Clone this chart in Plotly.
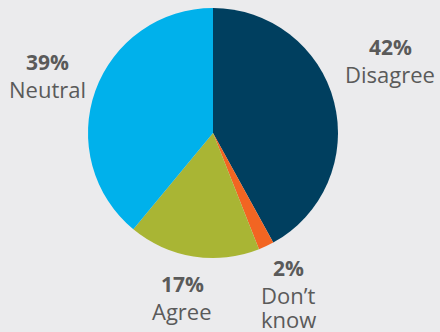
import plotly.graph_objects as go

labels = ["Disagree", "Don't know", "Agree", "Neutral"]
values = [42, 2, 17, 39]
colors = ["#003f5f", "#f26522", "#a9b534", "#00b1eb"]
pct_text = ["42%", "2%", "17%", "39%"]
name_text = [["Disagree"], ["Don’t", "know"], ["Agree"], ["Neutral"]]
# label anchor positions (paper px)
label_pos = [(390, 47), (288, 268), (182, 284), (47, 62)]

W, H = 440, 332
fig = go.Figure(go.Pie(
    labels=labels, values=values, sort=False, direction="clockwise", rotation=0,
    marker=dict(colors=colors, line=dict(width=0)),
    textinfo="none", hoverinfo="label+percent", showlegend=False,
    domain=dict(x=[88 / W, 338 / W], y=[1 - 258 / H, 1 - 8 / H]),
))

font_family = "'Open Sans', 'Noto Sans', sans-serif"
txt_color = "#5a5a5a"
for (x, y), p, names in zip(label_pos, pct_text, name_text):
    fig.add_annotation(x=x / W, y=1 - y / H, xref="paper", yref="paper",
                       text=f"<b>{p}</b>", showarrow=False,
                       font=dict(size=21, color=txt_color, family=font_family),
                       xanchor="center", yanchor="middle")
    for i, n in enumerate(names):
        fig.add_annotation(x=x / W, y=1 - (y + 27 + 24 * i) / H, xref="paper", yref="paper",
                           text=n, showarrow=False,
                           font=dict(size=22, color=txt_color, family=font_family),
                           xanchor="center", yanchor="middle")

fig.update_layout(width=W, height=H, margin=dict(l=0, r=0, t=0, b=0),
                  paper_bgcolor="#ebebed", plot_bgcolor="#ebebed")
fig.write_html("out.html")
